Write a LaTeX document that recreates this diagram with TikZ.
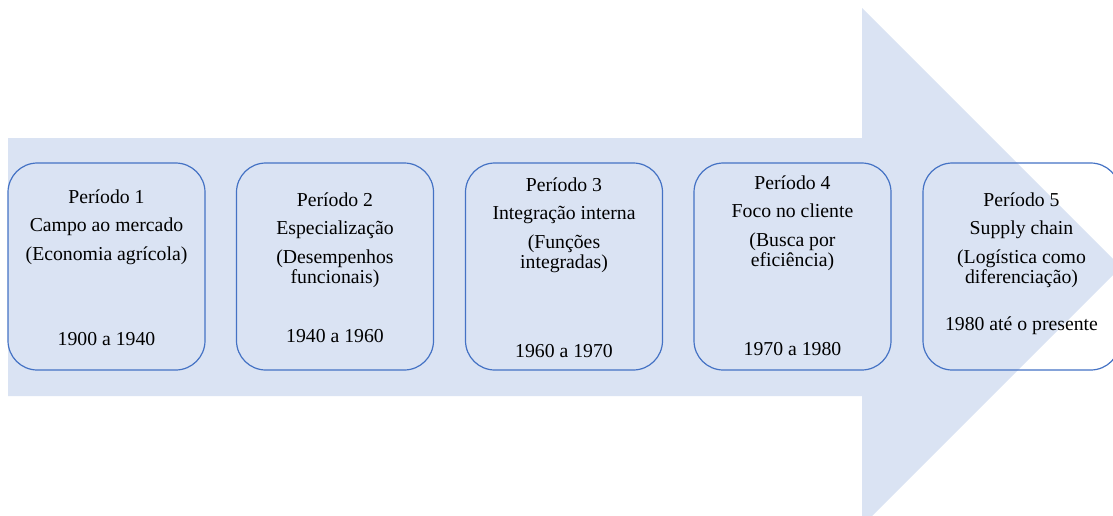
\documentclass[tikz,border=0pt]{standalone}
\usepackage{fontspec}
\setmainfont{Liberation Serif}
\usetikzlibrary{positioning}

\definecolor{arrowfill}{HTML}{DAE3F3}
\definecolor{boxline}{HTML}{4472C4}

\begin{document}
\begin{tikzpicture}[
        x=0.75pt, y=-0.75pt,
        every node/.style={font=\fontsize{14.8pt}{15.4pt}\selectfont, inner sep=0pt},
        periodbox/.style={draw=boxline, line width=0.9pt, rounded corners=22pt,
            minimum width=147.75pt, minimum height=155.25pt},
        periodtext/.style={align=center},
        yeartext/.style={}
    ]
    \clip (0,0) rectangle (1113,515);
    % big arrow in the background
    \fill[arrowfill] (8,138) -- (862,138) -- (862,8) -- (1121,267)
        -- (862,526) -- (862,396) -- (8,396) -- cycle;
    % the five periods
    \node[periodbox] (p1) at (106.5,266.5) {};
    \node[periodbox] (p2) at (335,266.5) {};
    \node[periodbox] (p3) at (564,266.5) {};
    \node[periodbox] (p4) at (792.5,266.5) {};
    \node[periodbox] (p5) at (1021.5,266.5) {};
    \node[periodtext, below=20.25pt of p1.north] (t1)
        {Período 1\\[6pt] Campo ao mercado\\[6pt] (Economia agrícola)};
    \node[periodtext, below=22.5pt of p2.north] (t2)
        {Período 2\\[6pt] Especialização\\[6pt] (Desempenhos\\ funcionais)};
    \node[periodtext, below=11.25pt of p3.north] (t3)
        {Período 3\\[6pt] Integração interna\\[6pt] (Funções\\ integradas)};
    \node[periodtext, below=9.75pt of p4.north] (t4)
        {Período 4\\[6pt] Foco no cliente\\[6pt] (Busca por\\ eficiência)};
    \node[periodtext, below=22.5pt of p5.north] (t5)
        {Período 5\\[6pt] Supply chain\\[6pt] (Logística como\\ diferenciação)};
    \node[yeartext, above=18.75pt of p1.south] (y1) {1900 a 1940};
    \node[yeartext, above=21pt of p2.south] (y2) {1940 a 1960};
    \node[yeartext, above=9.75pt of p3.south] (y3) {1960 a 1970};
    \node[yeartext, above=11.25pt of p4.south] (y4) {1970 a 1980};
    \node[yeartext, above=27pt of p5.south] (y5) {1980 até o presente};
\end{tikzpicture}
\end{document}
